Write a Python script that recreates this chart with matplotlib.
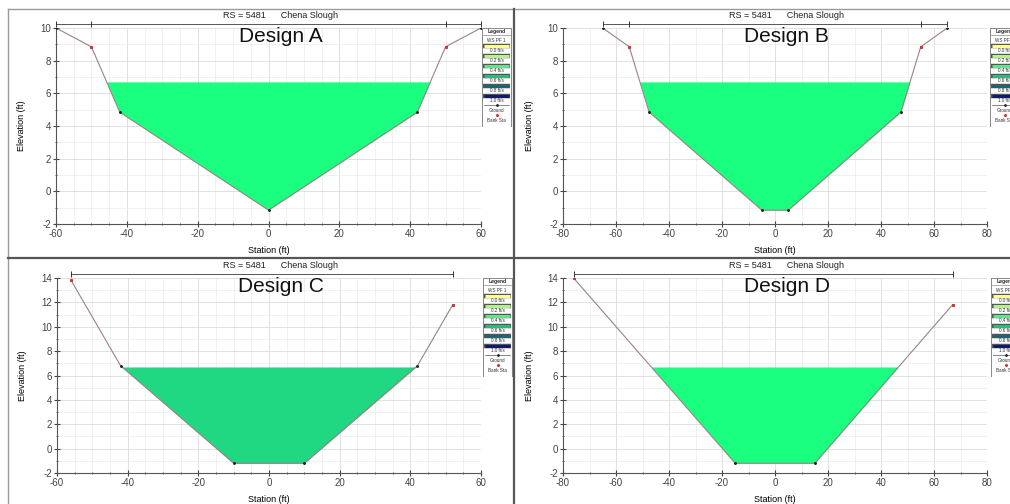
import numpy as np
import matplotlib
matplotlib.use("Agg")
import matplotlib.pyplot as plt
from matplotlib.lines import Line2D
from matplotlib.patches import Rectangle
from matplotlib.ticker import MultipleLocator

plt.rcParams['font.family'] = ['Liberation Sans', 'DejaVu Sans']
plt.rcParams['axes.unicode_minus'] = False

# cross-section geometry for each design (station ft, elevation ft)
a_station = [-60, -50, -42, 0, 42, 50, 60]
a_elev = [10.0, 8.85, 4.85, -1.15, 4.85, 8.85, 10.0]
a_bank = [-50, 50]
a_marks = [-60, -50, 50, 60]

b_station = [-65, -55, -47.5, -5, 5, 47.5, 55, 65]
b_elev = [10.0, 8.85, 4.85, -1.15, -1.15, 4.85, 8.85, 10.0]
b_bank = [-55, 55]
b_marks = [-65, -55, 55, 65]

c_station = [-56, -42, -10, 10, 42, 52]
c_elev = [13.8, 6.8, -1.2, -1.2, 6.8, 11.8]
c_bank = [-56, 52]
c_marks = [-56, 52]

d_station = [-76, -15, 15, 67]
d_elev = [14.0, -1.2, -1.2, 11.8]
d_bank = [-76, 67]
d_marks = [-76, 67]

ws_elev = 6.7
rs_title = "RS = 5481      Chena Slough"

legend_labels = ["0.0 ft/s", "0.2 ft/s", "0.4 ft/s", "0.6 ft/s", "0.8 ft/s", "1.0 ft/s"]
legend_colors = ["#ffff90", "#b4f08c", "#62e28a", "#2fb87c", "#1d6470", "#0e1a6c"]

W, H = 1010, 504
fig = plt.figure(figsize=(W / 100, H / 100), dpi=100)
fig.patch.set_facecolor("white")


def px_rect(x0, y0, x1, y1):
    return [x0 / W, 1 - y1 / H, (x1 - x0) / W, (y1 - y0) / H]


def draw_panel(rect, name, station, elev, bank, marks, xlim, ylim, xminor, water):
    ax = fig.add_axes(px_rect(*rect))
    station = np.array(station, dtype=float)
    elev = np.array(elev, dtype=float)

    # water surface filled between ground and WS elevation
    xs = np.linspace(station[0], station[-1], 2000)
    gs = np.interp(xs, station, elev)
    ax.fill_between(xs, gs, ws_elev, where=gs < ws_elev, interpolate=True,
                    color=water, lw=0, zorder=2)

    ax.plot(station, elev, color="#9a8282", lw=0.8, zorder=3)
    ax.plot(station, elev, ls="none", marker="o", ms=1.1, color="#222222", zorder=4)
    bank_elev = np.interp(bank, station, elev)
    ax.plot(bank, bank_elev, ls="none", marker="o", ms=1.2, color="#e03030", zorder=5)

    # n-value line above the section
    trans = ax.get_xaxis_transform()
    ax.plot([marks[0], marks[-1]], [1.02, 1.02], transform=trans, color="#555555",
            lw=0.7, clip_on=False)
    ax.plot(marks, [1.02] * len(marks), transform=trans, ls="none", marker="|",
            ms=5, mew=0.7, color="#333333", clip_on=False)

    ax.set_xlim(*xlim)
    ax.set_ylim(*ylim)
    ax.xaxis.set_major_locator(MultipleLocator(20))
    ax.xaxis.set_minor_locator(MultipleLocator(xminor))
    ax.yaxis.set_major_locator(MultipleLocator(2))
    ax.yaxis.set_minor_locator(MultipleLocator(1))
    ax.grid(True, which="major", color="#dcdcdc", lw=0.6)
    ax.grid(True, which="minor", color="#ececec", lw=0.5)
    ax.set_axisbelow(True)
    for s in ["top", "right"]:
        ax.spines[s].set_visible(False)
    for s in ["left", "bottom"]:
        ax.spines[s].set_color("#555555")
        ax.spines[s].set_linewidth(0.8)
    ax.tick_params(which="both", direction="inout", colors="#444444", labelsize=7,
                   pad=1.5)
    ax.tick_params(which="major", length=4)
    ax.tick_params(which="minor", length=2)
    ax.set_xlabel("Station (ft)", fontsize=6.5, labelpad=5)
    ax.set_ylabel("Elevation (ft)", fontsize=6.5, labelpad=10)

    ax.text(0.528, 1.0 + 13 / (rect[3] - rect[1]), rs_title, transform=ax.transAxes,
            ha="center", va="center", fontsize=6.5, color="#222222")
    ax.text(0.528, 0.957, name, transform=ax.transAxes, ha="center", va="center",
            fontsize=15, color="#111111")
    return ax


def draw_legend(x0, y0):
    lax = fig.add_axes(px_rect(x0, y0, x0 + 31, y0 + 100))
    lax.set_xlim(0, 1)
    lax.set_ylim(100, 0)
    lax.axis("off")
    lax.add_patch(Rectangle((0.02, 0.5), 0.96, 99, fill=False, ec="#888888", lw=0.7))
    lax.text(0.5, 4, "Legend", ha="center", va="center", fontsize=3.6,
             fontweight="bold", color="#222222")
    lax.plot([0.08, 0.92], [8, 8], color="#888888", lw=0.5)
    lax.text(0.5, 13, "WS PF 1", ha="center", va="center", fontsize=3.3, color="#333333")
    y = 19
    for lab, col in zip(legend_labels, legend_colors):
        lax.plot([0.08, 0.92], [y, y], color="#555555", lw=3.2, solid_capstyle="butt")
        lax.plot([0.1, 0.9], [y, y], color=col, lw=2.2, solid_capstyle="butt")
        lax.text(0.5, y + 5, lab, ha="center", va="center", fontsize=3.3, color="#333333")
        y += 10
    lax.plot([0.1, 0.9], [y - 1, y - 1], color="#555555", lw=0.5)
    lax.plot([0.5], [y - 1], marker="o", ms=1, color="#222222")
    lax.text(0.5, y + 4, "Ground", ha="center", va="center", fontsize=3.3, color="#333333")
    lax.plot([0.5], [y + 9], marker="o", ms=1.2, color="#e03030", ls="none")
    lax.text(0.5, y + 14, "Bank Sta", ha="center", va="center", fontsize=3.3,
             color="#333333")


bright = "#1aff80"
deep = "#20d882"
draw_panel((56, 28, 481, 224), "Design A", a_station, a_elev, a_bank, a_marks,
           (-60, 60), (-2, 10), 5, bright)
draw_panel((563, 28, 987, 224), "Design B", b_station, b_elev, b_bank, b_marks,
           (-80, 80), (-2, 10), 10, bright)
draw_panel((57, 278, 481, 473), "Design C", c_station, c_elev, c_bank, c_marks,
           (-60, 60), (-2, 14), 5, deep)
draw_panel((563, 278, 987, 473), "Design D", d_station, d_elev, d_bank, d_marks,
           (-80, 80), (-2, 14), 10, bright)

draw_legend(481, 27)
draw_legend(989, 27)
draw_legend(482, 277)
draw_legend(990, 277)

# panel frames
frame = [((8, 9), (1010, 9), "#9a9a9a", 1.0),
         ((8, 9), (8, 504), "#9a9a9a", 1.0),
         ((8, 258), (1010, 258), "#555555", 1.6),
         ((514, 9), (514, 504), "#555555", 1.6)]
for (x0, y0), (x1, y1), col, lw in frame:
    fig.add_artist(Line2D([x0 / W, x1 / W], [1 - y0 / H, 1 - y1 / H], color=col, lw=lw,
                          transform=fig.transFigure))

fig.savefig("out.png", dpi=100, facecolor="white")
